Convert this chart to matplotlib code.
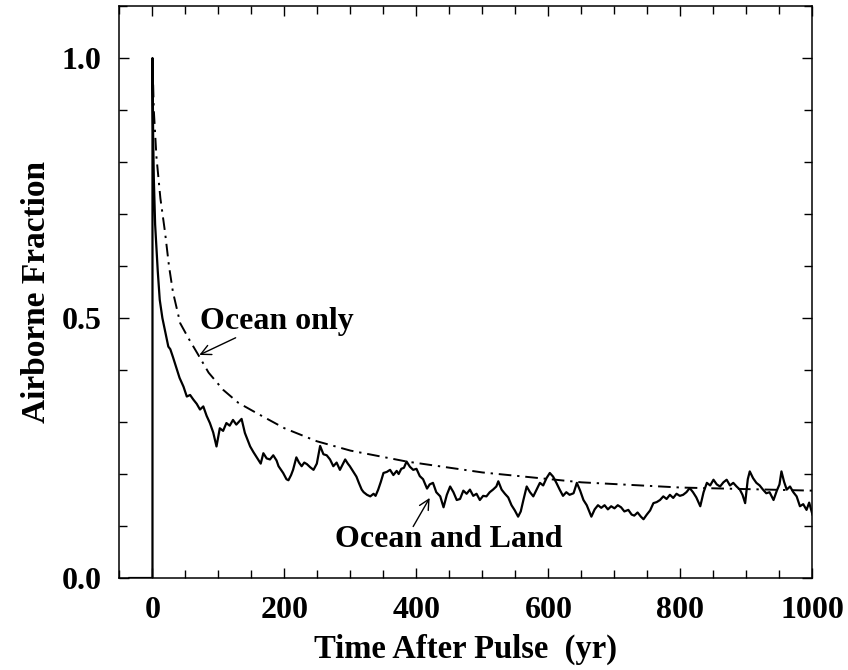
import matplotlib
matplotlib.use("Agg")
import matplotlib.pyplot as plt
from matplotlib.ticker import MultipleLocator

plt.rcParams['font.family'] = ['Liberation Serif', 'DejaVu Serif']
plt.rcParams['font.weight'] = 'bold'

# Ocean + land response to a pulse (airborne fraction vs years after pulse)
years_land = [-35, 0, 0, 1, 2, 4, 8, 11, 15, 20, 24, 27, 31, 36, 41, 47, 52, 57, 62, 67,
              72, 77, 82, 87, 92, 97, 102, 107, 112, 117, 122, 127, 132, 135, 140, 144,
              148, 153, 160, 164, 168, 173, 178, 183, 188, 191, 198, 203, 206, 210, 213,
              218, 222, 226, 230, 234, 239, 244, 249, 254, 259, 264, 269, 274, 279, 284,
              288, 292, 296, 299, 304, 309, 313, 317, 320, 325, 330, 335, 338, 342, 346,
              350, 355, 360, 365, 370, 373, 377, 381, 385, 390, 395, 400, 405, 410, 416,
              420, 425, 430, 436, 441, 446, 451, 456, 461, 466, 471, 476, 481, 486, 491,
              496, 501, 506, 511, 516, 521, 524, 529, 534, 539, 544, 549, 554, 558, 562,
              567, 572, 577, 582, 587, 592, 597, 602, 607, 612, 617, 622, 627, 632, 638,
              643, 648, 653, 658, 665, 670, 675, 680, 685, 690, 695, 700, 705, 710, 715,
              721, 726, 730, 735, 740, 744, 749, 754, 759, 764, 769, 774, 779, 784, 789,
              794, 799, 804, 809, 814, 819, 824, 830, 835, 840, 845, 850, 855, 860, 865,
              870, 875, 880, 885, 890, 894, 898, 902, 905, 910, 915, 920, 925, 930, 935,
              941, 946, 950, 953, 957, 961, 966, 971, 976, 981, 986, 991, 995, 1000]
frac_land = [0.0, 0.0, 1.0, 0.85, 0.77, 0.68, 0.59, 0.535, 0.50, 0.47, 0.445, 0.44, 0.425,
             0.405, 0.385, 0.368, 0.349, 0.352, 0.343, 0.335, 0.324, 0.33, 0.312, 0.298,
             0.28, 0.253, 0.288, 0.283, 0.298, 0.293, 0.304, 0.295, 0.302, 0.306, 0.279,
             0.266, 0.253, 0.242, 0.228, 0.22, 0.24, 0.23, 0.228, 0.236, 0.226, 0.215,
             0.202, 0.19, 0.188, 0.198, 0.208, 0.232, 0.222, 0.215, 0.222, 0.219, 0.213,
             0.208, 0.22, 0.254, 0.238, 0.236, 0.228, 0.215, 0.222, 0.208, 0.218, 0.228,
             0.22, 0.215, 0.205, 0.195, 0.182, 0.17, 0.165, 0.16, 0.157, 0.162, 0.158,
             0.17, 0.185, 0.202, 0.204, 0.208, 0.198, 0.206, 0.2, 0.21, 0.212, 0.224,
             0.214, 0.208, 0.21, 0.196, 0.19, 0.172, 0.18, 0.183, 0.165, 0.157, 0.136,
             0.16, 0.176, 0.165, 0.15, 0.152, 0.168, 0.162, 0.17, 0.158, 0.162, 0.15,
             0.158, 0.157, 0.165, 0.17, 0.176, 0.186, 0.17, 0.162, 0.155, 0.14, 0.13,
             0.118, 0.128, 0.15, 0.176, 0.165, 0.157, 0.17, 0.183, 0.178, 0.192, 0.202,
             0.195, 0.183, 0.17, 0.158, 0.165, 0.16, 0.163, 0.183, 0.168, 0.15, 0.14,
             0.118, 0.132, 0.14, 0.135, 0.14, 0.132, 0.138, 0.134, 0.14, 0.136, 0.128,
             0.131, 0.122, 0.12, 0.126, 0.118, 0.113, 0.122, 0.13, 0.144, 0.146, 0.15,
             0.157, 0.152, 0.16, 0.154, 0.162, 0.158, 0.16, 0.165, 0.173, 0.165, 0.155,
             0.138, 0.165, 0.183, 0.178, 0.189, 0.18, 0.176, 0.184, 0.189, 0.178, 0.183,
             0.176, 0.17, 0.16, 0.144, 0.19, 0.205, 0.192, 0.183, 0.178, 0.17, 0.163,
             0.165, 0.15, 0.168, 0.18, 0.205, 0.185, 0.17, 0.176, 0.165, 0.157, 0.138,
             0.142, 0.131, 0.145, 0.122]

# Ocean-only response
years_ocean = [0, 2, 6, 12, 19, 25, 31, 42, 55, 69, 85, 107, 130, 158, 200, 249, 300,
               385, 500, 650, 800, 1000]
frac_ocean = [1.0, 0.9, 0.81, 0.73, 0.665, 0.6, 0.55, 0.49, 0.46, 0.43, 0.395, 0.362,
              0.337, 0.317, 0.288, 0.263, 0.245, 0.224, 0.203, 0.184, 0.174, 0.168]

fig = plt.figure(figsize=(8.48, 6.70), dpi=100)
ax = fig.add_axes([0.1409, 0.1373, 0.8172, 0.8537])

ax.plot(years_land, frac_land, color='black', lw=1.6)
ax.plot(years_ocean, frac_ocean, color='black', lw=1.4,
        linestyle=(0, (6.5, 3, 1.2, 3)))

ax.set_xlim(-50, 1000)
ax.set_ylim(0, 1.1)
ax.xaxis.set_major_locator(MultipleLocator(200))
ax.xaxis.set_minor_locator(MultipleLocator(50))
ax.yaxis.set_major_locator(MultipleLocator(0.5))
ax.yaxis.set_minor_locator(MultipleLocator(0.1))
ax.yaxis.set_major_formatter(plt.FormatStrFormatter('%.1f'))

ax.tick_params(which='both', direction='in', top=True, right=True, width=1.0)
ax.tick_params(which='major', length=7, labelsize=23, pad=13)
ax.tick_params(which='minor', length=6)
for spine in ax.spines.values():
    spine.set_linewidth(1.1)

ax.set_xlabel('Time After Pulse  (yr)', fontsize=23.5, fontweight='bold', labelpad=6)
ax.set_ylabel('Airborne Fraction', fontsize=24, fontweight='bold', labelpad=7)

arrow = dict(arrowstyle='->', color='black', lw=1.0, shrinkA=0, shrinkB=0,
             mutation_scale=18)
ax.annotate('Ocean only', xy=(71, 0.429), xytext=(72, 0.493), fontsize=23,
            fontweight='bold', ha='left', va='center')
ax.annotate('', xy=(71, 0.429), xytext=(126, 0.462), arrowprops=arrow)
ax.annotate('Ocean and Land', xy=(420, 0.154), xytext=(277, 0.074), fontsize=23,
            fontweight='bold', ha='left', va='center')
ax.annotate('', xy=(420, 0.154), xytext=(395, 0.099), arrowprops=arrow)

fig.savefig('out.png', dpi=100)
